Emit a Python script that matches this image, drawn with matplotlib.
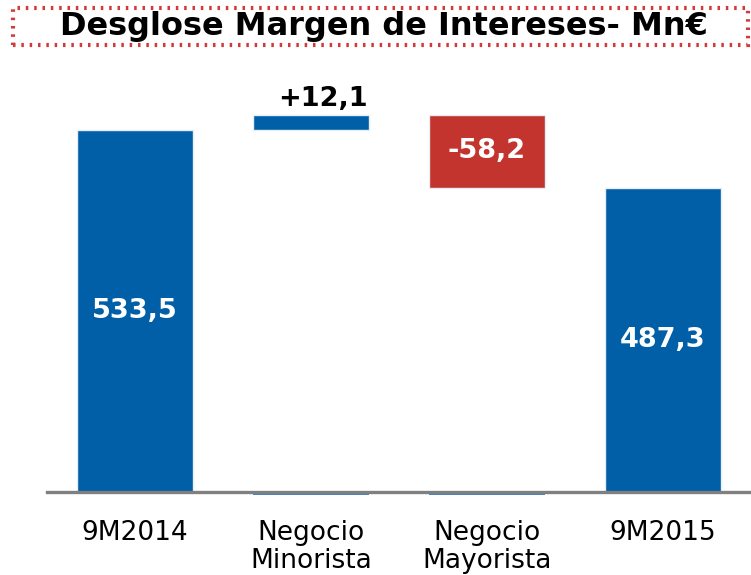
import matplotlib.pyplot as plt
from matplotlib.patches import Rectangle

# data
categories = ["9M2014", "Negocio\nMinorista", "Negocio\nMayorista", "9M2015"]
values = [533.5, 12.1, -58.2, 487.3]
labels = ["533,5", "+12,1", "-58,2", "487,3"]
is_total = [True, False, False, True]

blue = "#005FA7"
red = "#C3342F"
ymin, ymax = 245.1, 589.3

fig = plt.figure(figsize=(7.51, 5.75), dpi=100)
ax = fig.add_axes([47 / 751, 83 / 575, 704 / 751, 432 / 575])

# waterfall bottoms / heights
running = 0
bottoms, heights, colors = [], [], []
for v, tot in zip(values, is_total):
    if tot:
        bottoms.append(ymin)
        heights.append(v - ymin)
        running = v
        colors.append(blue)
    else:
        start = running
        running = running + v
        bottoms.append(min(start, running))
        heights.append(abs(v))
        colors.append(blue if v > 0 else red)

x = range(len(categories))
ax.bar(x, heights, bottom=bottoms, width=0.655, color=colors,
       edgecolor="#e6eef6", linewidth=1, zorder=2)

# thin base segments under floating bars
for i, tot in enumerate(is_total):
    if not tot:
        ax.bar(i, 2.2, bottom=ymin - 2.2, width=0.655, color="#3d86c6",
               linewidth=0, zorder=1, clip_on=False)

# value labels
for i, (v, lab, tot) in enumerate(zip(values, labels, is_total)):
    if tot:
        ax.text(i, bottoms[i] + heights[i] / 2, lab,
                ha="center", va="center", color="white",
                fontsize=19.5, fontweight="bold")
    elif v > 0:
        ax.text(i + 0.07, bottoms[i] + heights[i] + 2, lab, ha="center",
                va="bottom", color="black", fontsize=19.5, fontweight="bold")
    else:
        ax.text(i, bottoms[i] + heights[i] / 2, lab, ha="center", va="center",
                color="white", fontsize=19.5, fontweight="bold")

ax.set_xlim(-0.5, 3.5)
ax.set_ylim(ymin, ymax)
ax.set_xticks(list(x))
ax.set_xticklabels(categories, fontsize=19, linespacing=1.1)
ax.tick_params(axis="x", length=0, pad=20)
ax.set_yticks([])
for s in ["top", "right", "left"]:
    ax.spines[s].set_visible(False)
ax.spines["bottom"].set_color("#808080")
ax.spines["bottom"].set_linewidth(2.4)
ax.spines["bottom"].set_zorder(3)

# title box
fig.patches.append(Rectangle((13 / 751, 1 - 45 / 575), 735 / 751, 37 / 575,
                             transform=fig.transFigure, fill=False,
                             edgecolor="#D03A3A", linewidth=3,
                             linestyle=(0, (0.6, 1.4))))
fig.text(384 / 751, 1 - 27 / 575, "Desglose Margen de Intereses- Mn€",
         ha="center", va="center", fontsize=23, fontweight="bold")

fig.savefig("out.png", dpi=100)
